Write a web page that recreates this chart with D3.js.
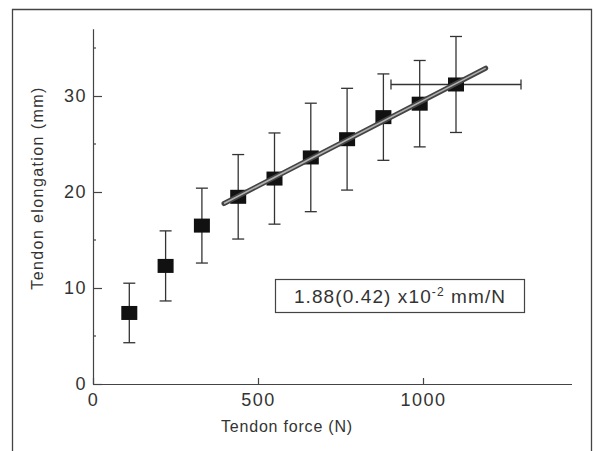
<!DOCTYPE html>
<html>
<head>
<meta charset="utf-8">
<script src="https://cdn.jsdelivr.net/npm/d3@7"></script>
<style>
  body { margin: 0; background: white; }
  svg { display: block; }
  .tick text { font-family: "Liberation Sans", sans-serif; font-size: 18px; fill: #333; letter-spacing: 1.5px; }
  .axis path, .axis line { stroke: #444; stroke-width: 1.2; }
  .lbl { font-family: "Liberation Sans", sans-serif; font-size: 16px; fill: #333; }
  .err { stroke: #333; stroke-width: 1.3; fill: none; }
</style>
</head>
<body>
<div id="chart"></div>
<script>
// tendon force (N) and elongation (mm), mean and SD
var force = [110, 220, 330, 440, 550, 660, 770, 880, 990, 1100];
var elong = [7.4, 12.3, 16.5, 19.5, 21.4, 23.6, 25.5, 27.8, 29.2, 31.2];
var elongSd = [3.1, 3.65, 3.9, 4.4, 4.75, 5.65, 5.3, 4.5, 4.5, 5.0];
var forceSd = [0, 0, 0, 0, 0, 0, 0, 0, 0, 197];

// regression line end points
var fitX = [397, 1190];
var fitY = [18.8, 32.9];

var xTicks = [0, 500, 1000];
var yTicks = [0, 10, 20, 30];
var yMinor = [5, 15, 25, 35];

var W = 593, H = 451;

var svg = d3.select("#chart")
  .append("svg")
  .attr("width", W)
  .attr("height", H);

// frame (left, top, right)
svg.append("path")
  .attr("d", "M12.5," + H + "V9.5H591.5V" + H)
  .attr("fill", "none")
  .attr("stroke", "#444")
  .attr("stroke-width", 1.3);

var x = d3.scaleLinear().domain([0, 1450]).range([93, 571.5]);
var y = d3.scaleLinear().domain([0, 37]).range([384, 28.8]);

// minor y ticks
svg.append("g")
  .attr("class", "axis")
  .selectAll("line")
  .data(yMinor)
  .enter().append("line")
  .attr("x1", x(0)).attr("x2", x(0) + 3)
  .attr("y1", d => y(d)).attr("y2", d => y(d));

svg.append("g")
  .attr("class", "axis")
  .attr("transform", "translate(" + x(0) + ",0)")
  .call(d3.axisLeft(y).tickValues(yTicks).tickSize(-9).tickSizeOuter(0).tickPadding(6));

var xAxis = svg.append("g")
  .attr("class", "axis")
  .attr("transform", "translate(0," + y(0) + ")")
  .call(d3.axisBottom(x).tickValues(xTicks).tickFormat(d3.format("d")).tickSize(-6).tickSizeOuter(0).tickPadding(9));
xAxis.selectAll("text").attr("text-anchor", "middle");

// axis titles
svg.append("text")
  .attr("class", "lbl")
  .attr("x", 287).attr("y", 432)
  .attr("text-anchor", "middle")
  .style("letter-spacing", "0.8px")
  .text("Tendon force (N)");

svg.append("text")
  .attr("class", "lbl")
  .attr("transform", "translate(43,188)rotate(-90)")
  .attr("text-anchor", "middle")
  .style("letter-spacing", "1.4px")
  .text("Tendon elongation (mm)");

var pts = force.map((f, i) => ({ f: f, e: elong[i], sd: elongSd[i], fsd: forceSd[i] }));
var cap = 6;

// vertical error bars
var eb = svg.append("g").attr("class", "err");
pts.forEach(function (d) {
  eb.append("line")
    .attr("x1", x(d.f)).attr("x2", x(d.f))
    .attr("y1", y(d.e - d.sd)).attr("y2", y(d.e + d.sd));
  eb.append("line")
    .attr("x1", x(d.f) - cap).attr("x2", x(d.f) + cap)
    .attr("y1", y(d.e + d.sd)).attr("y2", y(d.e + d.sd));
  eb.append("line")
    .attr("x1", x(d.f) - cap).attr("x2", x(d.f) + cap)
    .attr("y1", y(d.e - d.sd)).attr("y2", y(d.e - d.sd));
  if (d.fsd > 0) {
    eb.append("line")
      .attr("x1", x(d.f - d.fsd)).attr("x2", x(d.f + d.fsd))
      .attr("y1", y(d.e)).attr("y2", y(d.e));
    eb.append("line")
      .attr("x1", x(d.f - d.fsd)).attr("x2", x(d.f - d.fsd))
      .attr("y1", y(d.e) - 5).attr("y2", y(d.e) + 5);
    eb.append("line")
      .attr("x1", x(d.f + d.fsd)).attr("x2", x(d.f + d.fsd))
      .attr("y1", y(d.e) - 5).attr("y2", y(d.e) + 5);
  }
});

// squares
svg.append("g")
  .selectAll("rect")
  .data(pts)
  .enter().append("rect")
  .attr("x", d => x(d.f) - 8)
  .attr("y", d => y(d.e) - 7)
  .attr("width", 16)
  .attr("height", 14)
  .attr("fill", "#111");

// regression line (dark edges, lighter core)
var fit = d3.line().x(d => x(d[0])).y(d => y(d[1]));
var fitPts = fitX.map((v, i) => [v, fitY[i]]);
svg.append("path").attr("d", fit(fitPts))
  .attr("stroke", "#444").attr("stroke-width", 5).attr("stroke-linecap", "round").attr("fill", "none");
svg.append("path").attr("d", fit(fitPts))
  .attr("stroke", "#b0b0b0").attr("stroke-width", 1.6).attr("fill", "none");

// slope annotation box
svg.append("rect")
  .attr("x", 275.5).attr("y", 279.5)
  .attr("width", 249).attr("height", 33)
  .attr("fill", "white")
  .attr("stroke", "#444").attr("stroke-width", 1.2);

var t = svg.append("text")
  .attr("class", "lbl")
  .attr("x", 400).attr("y", 303)
  .attr("text-anchor", "middle")
  .style("font-size", "19px")
  .style("letter-spacing", "1.1px");
t.append("tspan").text("1.88(0.42) x10");
t.append("tspan").attr("dy", -7).style("font-size", "12px").text("-2");
t.append("tspan").attr("dy", 7).text(" mm/N");
</script>
</body>
</html>
